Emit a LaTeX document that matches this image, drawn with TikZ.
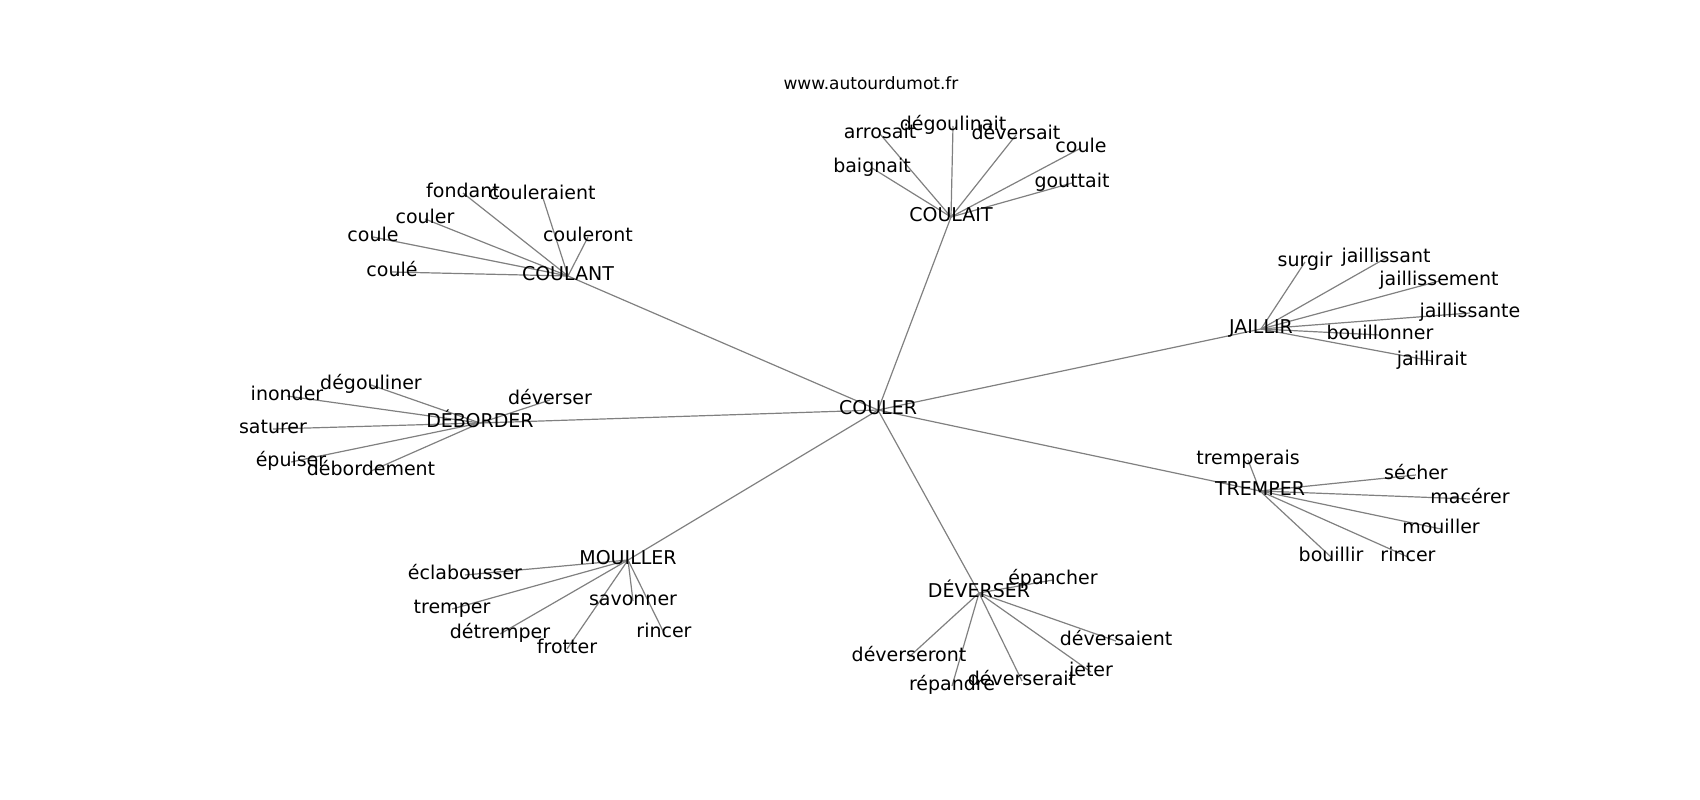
\documentclass[tikz,border=0pt]{standalone}
\usepackage{fontspec}
\setmainfont{DejaVu Sans}
\usetikzlibrary{backgrounds}
\tikzset{
  word/.style={font=\fontsize{19}{19}\selectfont, inner sep=0pt, text height=14.4pt, text depth=4.6pt},
  site/.style={font=\fontsize{17}{17}\selectfont, inner sep=0pt},
  link/.style={draw=gray, line width=1.2pt}
}
\begin{document}
\begin{tikzpicture}[x=1pt,y=-1pt]
    \useasboundingbox (0,0) rectangle (1700,800);
    \node [site] (web) at (871,83) {www.autourdumot.fr};

    % centre and the seven hubs
    \node [word] (couler) at (878,410) {COULER};
    \node [word] (coulait) at (951,217) {COULAIT};
    \node [word] (coulant) at (568,276) {COULANT};
    \node [word] (jaillir) at (1261,329) {JAILLIR};
    \node [word] (deborder) at (480,423) {DÉBORDER};
    \node [word] (mouiller) at (628,560) {MOUILLER};
    \node [word] (tremper) at (1260,491) {TREMPER};
    \node [word] (deverser) at (979,593) {DÉVERSER};

    % COULAIT
    \node [word] (arrosait) at (880,134) {arrosait};
    \node [word] (degoulinait) at (953,126) {dégoulinait};
    \node [word] (deversait) at (1016,135) {déversait};
    \node [word] (coule1) at (1081,148) {coule};
    \node [word] (gouttait) at (1072,183) {gouttait};
    \node [word] (baignait) at (872,168) {baignait};

    % COULANT
    \node [word] (fondant) at (463,193) {fondant};
    \node [word] (couleraient) at (542,195) {couleraient};
    \node [word] (couler2) at (425,219) {couler};
    \node [word] (coule2) at (373,237) {coule};
    \node [word] (couleront) at (588,237) {couleront};
    \node [word] (coulepp) at (392,272) {coulé};

    % JAILLIR
    \node [word] (surgir) at (1305,262) {surgir};
    \node [word] (jaillissant) at (1386,258) {jaillissant};
    \node [word] (jaillissement) at (1439,281) {jaillissement};
    \node [word] (jaillissante) at (1470,313) {jaillissante};
    \node [word] (bouillonner) at (1380,335) {bouillonner};
    \node [word] (jaillirait) at (1432,361) {jaillirait};

    % DEBORDER
    \node [word] (inonder) at (287,396) {inonder};
    \node [word] (degouliner) at (371,385) {dégouliner};
    \node [word] (deverser2) at (550,400) {déverser};
    \node [word] (saturer) at (273,429) {saturer};
    \node [word] (epuiser) at (291,462) {épuiser};
    \node [word] (debordement) at (371,471) {débordement};

    % MOUILLER
    \node [word] (eclabousser) at (465,575) {éclabousser};
    \node [word] (tremper2) at (452,609) {tremper};
    \node [word] (savonner) at (633,601) {savonner};
    \node [word] (detremper) at (500,634) {détremper};
    \node [word] (frotter) at (567,649) {frotter};
    \node [word] (rincer1) at (664,633) {rincer};

    % TREMPER
    \node [word] (tremperais) at (1248,460) {tremperais};
    \node [word] (secher) at (1416,475) {sécher};
    \node [word] (macerer) at (1470,499) {macérer};
    \node [word] (mouiller2) at (1441,529) {mouiller};
    \node [word] (bouillir) at (1331,557) {bouillir};
    \node [word] (rincer2) at (1408,557) {rincer};

    % DEVERSER
    \node [word] (epancher) at (1053,580) {épancher};
    \node [word] (deversaient) at (1116,641) {déversaient};
    \node [word] (deverseront) at (909,657) {déverseront};
    \node [word] (repandre) at (952,686) {répandre};
    \node [word] (deverserait) at (1022,681) {déverserait};
    \node [word] (jeter) at (1091,672) {jeter};

    \begin{scope}[on background layer]
    \foreach \hub in {coulait,coulant,jaillir,deborder,mouiller,tremper,deverser}
        \draw [link] (couler.center) -- (\hub.center);
    \foreach \leaf in {arrosait,degoulinait,deversait,coule1,gouttait,baignait}
        \draw [link] (coulait.center) -- (\leaf.center);
    \foreach \leaf in {fondant,couleraient,couler2,coule2,couleront,coulepp}
        \draw [link] (coulant.center) -- (\leaf.center);
    \foreach \leaf in {surgir,jaillissant,jaillissement,jaillissante,bouillonner,jaillirait}
        \draw [link] (jaillir.center) -- (\leaf.center);
    \foreach \leaf in {inonder,degouliner,deverser2,saturer,epuiser,debordement}
        \draw [link] (deborder.center) -- (\leaf.center);
    \foreach \leaf in {eclabousser,tremper2,savonner,detremper,frotter,rincer1}
        \draw [link] (mouiller.center) -- (\leaf.center);
    \foreach \leaf in {tremperais,secher,macerer,mouiller2,bouillir,rincer2}
        \draw [link] (tremper.center) -- (\leaf.center);
    \foreach \leaf in {epancher,deversaient,deverseront,repandre,deverserait,jeter}
        \draw [link] (deverser.center) -- (\leaf.center);
    \end{scope}
\end{tikzpicture}
\end{document}
